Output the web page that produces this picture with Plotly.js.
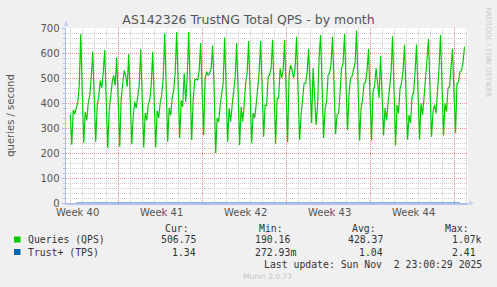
<!DOCTYPE html>
<html><head><meta charset="utf-8">
<script src="https://cdn.plot.ly/plotly-3.0.1.min.js"></script>
<style>html,body{margin:0;padding:0;background:#f0f0f0;overflow:hidden}#chart{width:497px;height:287px}</style>
</head><body><div id="chart"></div>
<script>
// ---- data (3-hourly samples starting 2025-10-01 00:00) ----
const seriesStart = '2025-10-01T00:00:00Z';
const stepHours = 3;
const queries = [
 353,233,372,356,380,400,470,675,
 440,240,365,330,400,432,500,607,
 420,245,390,425,490,460,520,612,
 410,220,372,445,485,510,470,582,
 400,225,420,465,530,510,465,595,
 410,235,345,405,380,430,470,615,
 420,222,360,330,395,410,470,605,
 410,222,370,340,400,430,500,678,
 460,245,380,350,420,450,520,684,
 460,259,410,385,519,405,500,684,
 460,252,412,492,495,492,530,640,
 440,272,499,525,510,519,539,630,
 445,200,339,325,392,432,480,662,
 450,245,379,325,392,445,500,640,
 430,232,385,325,392,479,520,648,
 440,239,359,340,392,472,520,648,
 450,265,392,390,505,512,540,653,
 440,237,419,419,539,500,530,652,
 440,244,513,552,530,500,540,665,
 440,253,352,405,479,479,520,617,
 420,320,540,392,312,392,579,672,
 450,260,379,405,512,520,560,665,
 460,276,352,360,445,539,560,676,
 470,292,439,499,507,530,560,690,
 450,250,379,412,479,485,530,617,
 420,250,445,470,539,470,420,590,
 420,270,380,330,400,450,520,667,
 440,230,392,359,459,480,530,633,
 430,253,352,319,425,440,520,633,
 440,253,399,352,420,499,539,656,
 450,265,365,392,359,445,540,672,
 450,270,399,365,459,465,540,617,
 440,280,479,485,525,530,560,625
];
// Trust+ (TPS), daily samples at noon
const trustStart = '2025-10-01T12:00:00Z';
const trustTPS = [1.1,0.9,1.0,1.2,1.0,0.9,1.1,1.0,1.3,1.1,0.9,1.0,1.2,1.0,0.8,1.1,1.0,0.9,1.2,1.0,1.1,0.9,1.0,1.3,1.0,0.9,1.1,1.0,1.2,1.0,0.9,1.1,1.3];

const weekLabels = ['Week 40','Week 41','Week 42','Week 43','Week 44'];
const weekLabelAt = ['2025-10-01 14:00','2025-10-08 14:00','2025-10-15 14:00','2025-10-22 14:00','2025-10-29 14:00'];
const weekLines = ['2025-10-05','2025-10-12','2025-10-19','2025-10-26','2025-11-02'];
const xRange = ['2025-09-30 15:30','2025-11-03 04:00'];

const seriesNames = ['Queries (QPS)','Trust+ (TPS)'];
const seriesColors = ['#00cc00','#0066b3'];
const statHeaders = ['Cur:','Min:','Avg:','Max:'];
const statsQueries = ['506.75','190.16','428.37','1.07k'];
const statsTrust = ['1.34','272.93m','1.04','2.41'];
const lastUpdate = 'Last update: Sun Nov  2 23:00:29 2025';

function timeAxis(start, n, hours){
  const t0 = Date.parse(start);
  const out = [];
  for(let i=0;i<n;i++){ out.push(new Date(t0 + i*hours*3600e3).toISOString().slice(0,16).replace('T',' ')); }
  return out;
}

// ---- layout helpers (pixel -> paper) ----
const L=66, R=468, T=28, B=203;
const px = v => (v-L)/(R-L);
const py = v => (B-v)/(B-T);

const mono = {family:'DejaVu Sans Mono', size:9.8, color:'#333333'};
const sans = {family:'DejaVu Sans', size:10, color:'#555555'};
const axisBlue = '#b4c0ec';
const redGrid = 'rgba(235,110,110,0.75)';
const grayGrid = '#cccccc';

const traces = [
 {x: timeAxis(trustStart, trustTPS.length, 24), y: trustTPS, type:'scatter', mode:'lines',
  name: seriesNames[1], line:{color:seriesColors[1], width:0.6}, hoverinfo:'skip'},
 {x: timeAxis(seriesStart, queries.length, stepHours), y: queries, type:'scatter', mode:'lines',
  name: seriesNames[0], line:{color:seriesColors[0], width:1.2}, hoverinfo:'skip'}
];

const ann = [];
weekLabels.forEach((t,i)=>ann.push({text:t, x:weekLabelAt[i], xref:'x', y:py(212.5), yref:'paper',
  showarrow:false, xanchor:'center', yanchor:'middle', font:sans}));
const hdrRight = [190,284,377,470];
statHeaders.forEach((t,i)=>ann.push({text:t, x:px(hdrRight[i]+1), xref:'paper', y:py(228), yref:'paper',
  showarrow:false, xanchor:'right', yanchor:'middle', font:mono}));
const qRight = [197,291,384,483];
statsQueries.forEach((t,i)=>ann.push({text:t, x:px(qRight[i]+1), xref:'paper', y:py(239.5), yref:'paper',
  showarrow:false, xanchor:'right', yanchor:'middle', font:mono}));
const tRight = [197,297,384,477];
statsTrust.forEach((t,i)=>ann.push({text:t, x:px(tRight[i]+1), xref:'paper', y:py(252), yref:'paper',
  showarrow:false, xanchor:'right', yanchor:'middle', font:mono}));
seriesNames.forEach((t,i)=>ann.push({text:t, x:px(26), xref:'paper', y:py(i===0?239.5:252), yref:'paper',
  showarrow:false, xanchor:'left', yanchor:'middle', font:mono}));
ann.push({text:lastUpdate.replace(/ /g,'&nbsp;'), x:px(484), xref:'paper', y:py(264.5), yref:'paper',
  showarrow:false, xanchor:'right', yanchor:'middle', font:mono});
ann.push({text:'Munin 2.0.73', x:0.5, xref:'paper', y:py(276.5), yref:'paper', showarrow:false,
  xanchor:'center', yanchor:'middle', font:{family:'DejaVu Sans', size:7.5, color:'#c4c4c4'}});
ann.push({text:'RRDTOOL / TOBI OETIKER', x:px(488), xref:'paper', y:py(52), yref:'paper', showarrow:false,
  textangle:90, xanchor:'center', yanchor:'middle', font:{family:'DejaVu Sans', size:7, color:'#c8c8c8'}});
// axis arrows
ann.push({text:'', x:px(66), xref:'paper', y:py(21), yref:'paper', showarrow:true, ax:0, ay:6,
  arrowhead:2, arrowsize:0.8, arrowwidth:1.2, arrowcolor:'#c8d0f2'});
ann.push({text:'', x:px(474), xref:'paper', y:py(203), yref:'paper', showarrow:true, ax:-6, ay:0,
  arrowhead:2, arrowsize:0.8, arrowwidth:1.2, arrowcolor:'#c8d0f2'});

const shapes = [
 {type:'rect', xref:'paper', yref:'paper', x0:px(14), x1:px(20.5), y0:py(242.5), y1:py(236.5), fillcolor:seriesColors[0], line:{width:0}},
 {type:'rect', xref:'paper', yref:'paper', x0:px(14), x1:px(20.5), y0:py(255), y1:py(249), fillcolor:seriesColors[1], line:{width:0}}
];

const layout = {
 width:497, height:287,
 margin:{l:L, r:497-R, t:T, b:287-B, pad:0},
 paper_bgcolor:'#f0f0f0', plot_bgcolor:'#ffffff',
 showlegend:false,
 title:{text:'AS142326 TrustNG Total QPS - by month', font:{family:'DejaVu Sans', size:12.5, color:'#555555'},
   x:0.5, xanchor:'center', xref:'container', y:1-20/287, yanchor:'middle', yref:'container'},
 xaxis:{type:'date', range:xRange, tickmode:'array', tickvals:weekLines, ticktext:weekLines.map(()=>''),
   showgrid:true, gridcolor:redGrid, griddash:'1px,1px', gridwidth:1, ticks:'',
   showline:true, linecolor:axisBlue, linewidth:2, zeroline:false, fixedrange:true,
   minor:{tickmode:'linear', tick0:'2025-10-01', dtick:86400000, showgrid:true, gridcolor:grayGrid, griddash:'1px,1px', gridwidth:1, ticks:''}},
 yaxis:{range:[0,700], tickmode:'linear', tick0:0, dtick:100, showgrid:true, gridcolor:redGrid, griddash:'1px,1px', gridwidth:1,
   ticks:'outside', ticklen:3, tickcolor:axisBlue, tickfont:sans, showline:true, linecolor:axisBlue, linewidth:1.5,
   zeroline:false, fixedrange:true,
   minor:{tickmode:'linear', tick0:0, dtick:20, showgrid:true, gridcolor:grayGrid, griddash:'1px,1px', gridwidth:1, ticks:'outside', ticklen:2, tickcolor:axisBlue},
   title:{text:'queries / second', font:sans, standoff:24}},
 annotations:ann, shapes:shapes
};
Plotly.newPlot('chart', traces, layout, {staticPlot:true, displayModeBar:false});
</script></body></html>
